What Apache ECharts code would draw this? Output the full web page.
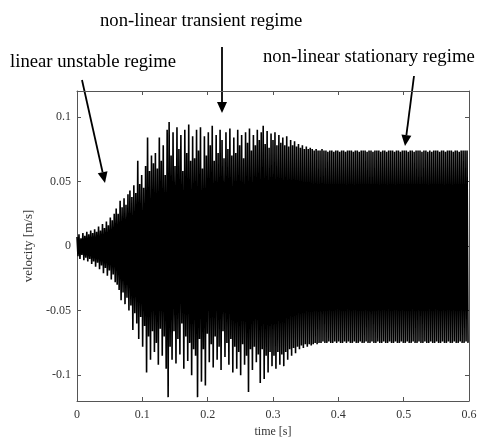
<!DOCTYPE html>
<html>
<head>
<meta charset="utf-8">
<script src="https://cdn.jsdelivr.net/npm/echarts@6/dist/echarts.min.js"></script>
<style>
html,body{margin:0;padding:0;background:#fff;}
#chart{width:479px;height:437px;}
</style>
</head>
<body>
<div id="chart"></div>
<script>
// time between successive signal peaks (s)
const sampleStep = 0.0015;
// positive peaks of the velocity signal (m/s), one per 0.003 s, rows of 0.06 s
const upperPeaks = [
  0.007,0.009,0.006,0.010,0.008,0.011,0.009,0.012,0.010,0.013,0.011,0.015,0.012,0.017,0.014,0.019,0.016,0.022,0.020,0.025,
  0.029,0.025,0.035,0.030,0.037,0.032,0.040,0.043,0.038,0.047,0.041,0.066,0.048,0.055,0.045,0.062,0.084,0.058,0.070,0.064,
  0.072,0.060,0.084,0.066,0.078,0.055,0.090,0.096,0.070,0.088,0.062,0.092,0.075,0.086,0.058,0.090,0.072,0.094,0.066,0.085,
  0.068,0.090,0.074,0.092,0.060,0.085,0.070,0.088,0.078,0.093,0.066,0.086,0.072,0.090,0.082,0.068,0.088,0.075,0.091,0.070,
  0.084,0.072,0.090,0.078,0.086,0.068,0.088,0.080,0.091,0.074,0.086,0.078,0.090,0.082,0.088,0.093,0.079,0.089,0.076,0.087,
  0.082,0.088,0.078,0.086,0.080,0.084,0.078,0.085,0.077,0.082,0.078,0.081,0.077,0.079,0.076,0.078,0.075,0.077,0.075,0.076,
  0.075,0.074,0.075,0.074,0.074,0.075,0.074,0.074,0.073,0.074,0.074,0.073,0.074,0.074,0.073,0.074,0.074,0.073,0.074,0.074,
  0.074,0.073,0.074,0.074,0.073,0.074,0.074,0.074,0.073,0.074,0.074,0.073,0.074,0.074,0.074,0.073,0.074,0.074,0.073,0.074,
  0.074,0.074,0.073,0.074,0.074,0.073,0.074,0.074,0.074,0.073,0.074,0.074,0.073,0.074,0.074,0.074,0.073,0.074,0.074,0.073,
  0.074,0.073,0.074,0.074,0.074,0.073,0.074,0.074,0.073,0.074,0.074,0.074,0.073,0.074,0.074,0.073,0.074,0.074,0.074,0.074
];
// negative peaks of the velocity signal (m/s), half a period after each positive peak
const lowerPeaks = [
  -0.008,-0.010,-0.007,-0.011,-0.009,-0.012,-0.010,-0.014,-0.012,-0.016,-0.013,-0.018,-0.015,-0.021,-0.017,-0.023,-0.019,-0.026,-0.022,-0.028,
  -0.030,-0.034,-0.042,-0.036,-0.045,-0.040,-0.050,-0.046,-0.065,-0.052,-0.060,-0.072,-0.055,-0.078,-0.062,-0.098,-0.070,-0.088,-0.066,-0.082,
  -0.075,-0.092,-0.064,-0.085,-0.070,-0.095,-0.117,-0.078,-0.088,-0.066,-0.091,-0.072,-0.084,-0.060,-0.095,-0.070,-0.089,-0.075,-0.100,-0.080,
  -0.085,-0.117,-0.072,-0.105,-0.080,-0.108,-0.068,-0.090,-0.076,-0.094,-0.070,-0.088,-0.078,-0.096,-0.066,-0.086,-0.075,-0.092,-0.072,-0.098,
  -0.078,-0.095,-0.082,-0.100,-0.076,-0.092,-0.085,-0.113,-0.080,-0.096,-0.078,-0.090,-0.084,-0.106,-0.080,-0.103,-0.085,-0.098,-0.082,-0.093,
  -0.085,-0.095,-0.082,-0.092,-0.084,-0.093,-0.082,-0.088,-0.080,-0.085,-0.079,-0.083,-0.078,-0.080,-0.077,-0.079,-0.076,-0.078,-0.076,-0.077,
  -0.076,-0.075,-0.076,-0.075,-0.075,-0.074,-0.075,-0.075,-0.074,-0.075,-0.075,-0.074,-0.075,-0.074,-0.075,-0.075,-0.074,-0.075,-0.074,-0.075,
  -0.075,-0.074,-0.075,-0.075,-0.074,-0.075,-0.075,-0.074,-0.075,-0.075,-0.074,-0.075,-0.075,-0.074,-0.075,-0.075,-0.074,-0.075,-0.075,-0.074,
  -0.075,-0.075,-0.074,-0.075,-0.075,-0.074,-0.075,-0.075,-0.074,-0.075,-0.075,-0.074,-0.075,-0.075,-0.074,-0.075,-0.075,-0.074,-0.075,-0.075,
  -0.074,-0.075,-0.075,-0.074,-0.075,-0.075,-0.074,-0.075,-0.075,-0.074,-0.075,-0.075,-0.074,-0.075,-0.075,-0.074,-0.075,-0.075,-0.074,-0.075
];
const xTicks = [0, 0.1, 0.2, 0.3, 0.4, 0.5, 0.6];
const yTicks = [-0.1, -0.05, 0, 0.05, 0.1];
const xTitle = 'time [s]';
const yTitle = 'velocity [m/s]';
const annotations = [
  {text: 'non-linear transient regime'},
  {text: 'linear unstable regime'},
  {text: 'non-linear stationary regime'}
];

const signal = [];
for (let i = 0; i < upperPeaks.length; i++) {
  signal.push([2 * i * sampleStep, upperPeaks[i]]);
  signal.push([(2 * i + 1) * sampleStep, lowerPeaks[i]]);
}

const FONT = '"Liberation Serif", "Times New Roman", serif';
const AX = '#555';

function arrow(x1, y1, x2, y2) {
  const dx = x2 - x1, dy = y2 - y1;
  const len = Math.sqrt(dx * dx + dy * dy);
  const ux = dx / len, uy = dy / len;
  const hl = 11, hw = 5;
  const bx = x2 - ux * hl, by = y2 - uy * hl;
  return {
    type: 'group',
    children: [
      {type: 'line', shape: {x1: x1, y1: y1, x2: bx, y2: by}, style: {stroke: '#000', lineWidth: 1.8}},
      {type: 'polygon', shape: {points: [[x2, y2], [bx - uy * hw, by + ux * hw], [bx + uy * hw, by - ux * hw]]}, style: {fill: '#000'}}
    ]
  };
}

function label(text, x, y) {
  return {type: 'text', x: x, y: y, style: {text: text, font: '18.7px ' + FONT, fill: '#000', textVerticalAlign: 'middle', verticalAlign: 'middle'}};
}

const chart = echarts.init(document.getElementById('chart'));
const tickStyle = {show: true, inside: true, length: 4, lineStyle: {color: AX, width: 1}};
const lineStyle = {show: true, onZero: false, lineStyle: {color: AX, width: 1}};
chart.setOption({
  animation: false,
  backgroundColor: '#fff',
  grid: {left: 77, right: 10, top: 91, bottom: 36, outerBoundsMode: 'none', containLabel: false},
  xAxis: [{
    type: 'value', min: xTicks[0], max: xTicks[xTicks.length - 1], interval: 0.1,
    name: xTitle, nameLocation: 'middle', nameGap: 24,
    nameTextStyle: {fontFamily: FONT, fontSize: 12, color: '#333'},
    axisLine: lineStyle,
    axisTick: tickStyle,
    axisLabel: {fontFamily: FONT, fontSize: 12, color: '#333', margin: 8},
    splitLine: {show: false}
  }, {
    type: 'value', position: 'top', min: xTicks[0], max: xTicks[xTicks.length - 1], interval: 0.1,
    axisLine: lineStyle,
    axisTick: tickStyle,
    axisLabel: {show: false},
    splitLine: {show: false}
  }],
  yAxis: [{
    type: 'value', min: -0.12, max: 0.12,
    name: yTitle, nameLocation: 'middle', nameGap: 40,
    nameTextStyle: {fontFamily: FONT, fontSize: 13, color: '#333'},
    axisLine: lineStyle,
    axisTick: Object.assign({}, tickStyle, {customValues: yTicks}),
    axisLabel: {fontFamily: FONT, fontSize: 12, color: '#333', margin: 6, customValues: yTicks},
    splitLine: {show: false}
  }, {
    type: 'value', position: 'right', min: -0.12, max: 0.12,
    axisLine: lineStyle,
    axisTick: Object.assign({}, tickStyle, {customValues: yTicks}),
    axisLabel: {show: false, customValues: yTicks},
    splitLine: {show: false}
  }],
  series: [{
    type: 'line',
    data: signal,
    xAxisIndex: 0, yAxisIndex: 0,
    showSymbol: false, symbol: 'none',
    lineStyle: {color: '#000', width: 1.6},
    clip: true
  }],
  graphic: [
    label(annotations[0].text, 100, 21),
    label(annotations[1].text, 10, 62),
    label(annotations[2].text, 263, 57),
    arrow(222, 47, 222, 113),
    arrow(82, 80, 105, 183),
    arrow(414, 76, 405, 146)
  ]
});
</script>
</body>
</html>
